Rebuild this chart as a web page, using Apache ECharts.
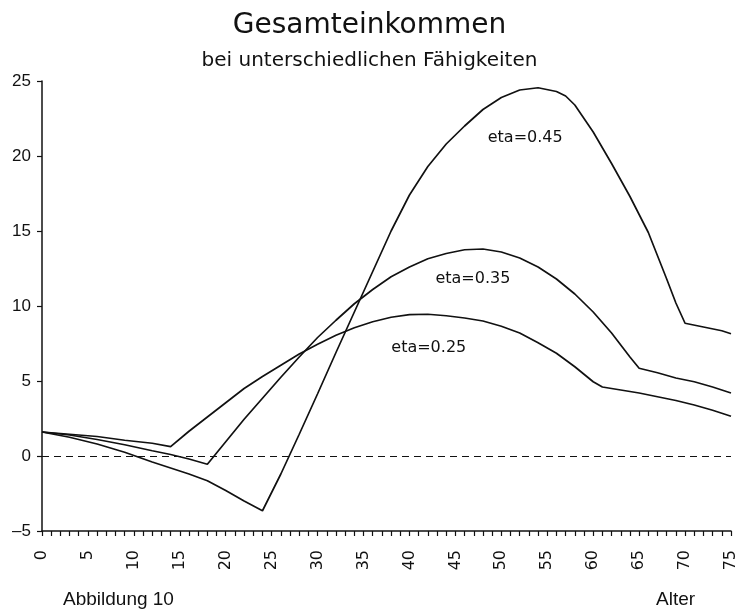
<!DOCTYPE html>
<html><head><meta charset="utf-8">
<script src="https://cdn.jsdelivr.net/npm/echarts@6/dist/echarts.min.js"></script>
<style>html,body{margin:0;padding:0;background:#fff}#c{width:739px;height:609px}</style>
</head><body><div id="c"></div>
<script>
const titleText = 'Gesamteinkommen';
const subtitleText = 'bei unterschiedlichen Fähigkeiten';
const figureText = 'Abbildung 10';
const xAxisText = 'Alter';

const ages025 = [0,3,6,9,12,14,16,18,20,22,24,26,28,30,32,34,36,38,40,42,44,46,48,50,52,54,56,58,60,61,63,65,67,69,71,73,75];
const vals025 = [1.6,1.45,1.3,1.05,0.85,0.62,1.65,2.6,3.55,4.5,5.3,6.05,6.8,7.45,8.05,8.55,8.95,9.25,9.42,9.45,9.35,9.2,9.0,8.65,8.2,7.55,6.85,5.95,4.95,4.6,4.4,4.2,3.95,3.7,3.4,3.05,2.65];

const ages035 = [0,3,6,9,12,14,16,18,20,22,24,26,28,30,32,34,36,38,40,42,44,46,48,50,52,54,56,58,60,62,64,65,67,69,71,73,75];
const vals035 = [1.6,1.4,1.1,0.75,0.35,0.1,-0.2,-0.55,0.95,2.45,3.85,5.25,6.6,7.9,9.05,10.15,11.1,11.95,12.6,13.15,13.5,13.75,13.8,13.6,13.2,12.6,11.8,10.8,9.6,8.2,6.6,5.85,5.55,5.2,4.95,4.6,4.2];

const ages045 = [0,3,6,9,12,14,16,18,20,22,24,26,28,30,32,34,36,38,40,42,44,46,48,50,52,54,56,57,58,60,62,64,66,68,69,70,72,74,75];
const vals045 = [1.6,1.25,0.8,0.25,-0.4,-0.8,-1.2,-1.65,-2.3,-3.0,-3.65,-1.2,1.45,4.15,6.9,9.6,12.3,15.0,17.4,19.3,20.8,22.0,23.1,23.9,24.4,24.55,24.3,24.0,23.4,21.6,19.5,17.3,14.9,11.8,10.2,8.85,8.6,8.35,8.15];

const seriesNames = ['eta=0.25','eta=0.35','eta=0.45'];
const labelPos = [[42.1,7.2],[46.9,11.8],[52.6,21.2]];

const xTicks = [0,5,10,15,20,25,30,35,40,45,50,55,60,65,70,75];
const yTicks = [-5,0,5,10,15,20,25];

function pairs(a, v){ return a.map((x,i)=>[x, v[i]]); }
const allData = [pairs(ages025, vals025), pairs(ages035, vals035), pairs(ages045, vals045)];

const chart = echarts.init(document.getElementById('c'), null, {renderer:'canvas'});
const font = 'DejaVu Sans';
const series = allData.map((d,i)=>({
  type:'line', name: seriesNames[i], data: d, showSymbol:false, symbol:'none',
  lineStyle:{color:'#111', width:1.7}, animation:false,
  markPoint:{symbol:'circle', symbolSize:0, data:[{coord: labelPos[i], value: seriesNames[i]}],
    label:{show:true, position:'inside', formatter: seriesNames[i], color:'#111', fontFamily:font, fontSize:16}}
}));
series.push({
  type:'line', data:[], silent:true,
  markLine:{symbol:['none','none'], silent:true, label:{show:false},
    lineStyle:{type:[7,5], color:'#111', width:1.2},
    data:[[{coord:[0,0]},{coord:[75,0]}]]}
});

chart.setOption({
  backgroundColor:'#fff',
  animation:false,
  title:[
    {text:titleText, left:'center', top:7, textStyle:{fontFamily:font, fontSize:28, fontWeight:'normal', color:'#111'}},
    {text:subtitleText, left:'center', top:46, textStyle:{fontFamily:font, fontSize:20, fontWeight:'normal', color:'#111'}},
    {text:figureText, left:58, top:585, textStyle:{fontFamily:'Liberation Sans', fontSize:19, fontWeight:'normal', color:'#111'}},
    {text:xAxisText, left:651, top:585, textStyle:{fontFamily:'Liberation Sans', fontSize:19, fontWeight:'normal', color:'#111'}}
  ],
  grid:{left:42, right:6, top:81, bottom:78, containLabel:false},
  xAxis:{type:'value', min:0, max:75, interval:5,
    axisLine:{show:true, onZero:false, lineStyle:{color:'#111', width:1.5}},
    axisTick:{show:true, inside:false, length:5, lineStyle:{color:'#111', width:1.2}},
    minorTick:{show:true, splitNumber:5, length:5, lineStyle:{color:'#111', width:1.2}},
    splitLine:{show:false},
    axisLabel:{rotate:90, margin:19, color:'#111', fontFamily:font, fontSize:16,
      formatter:(v)=> xTicks.includes(v) ? String(v) : ''}
  },
  yAxis:{type:'value', min:-5, max:25, interval:5,
    axisLine:{show:true, lineStyle:{color:'#111', width:1.5}},
    axisTick:{show:true, inside:false, length:5, lineStyle:{color:'#111', width:1.2}},
    splitLine:{show:false},
    axisLabel:{margin:11, color:'#111', fontFamily:'Liberation Sans', fontSize:17,
      formatter:(v)=> yTicks.includes(v) ? (v<0 ? '\u2013' + Math.abs(v) : String(v)) : ''}
  },
  series: series
});
</script>
</body></html>
